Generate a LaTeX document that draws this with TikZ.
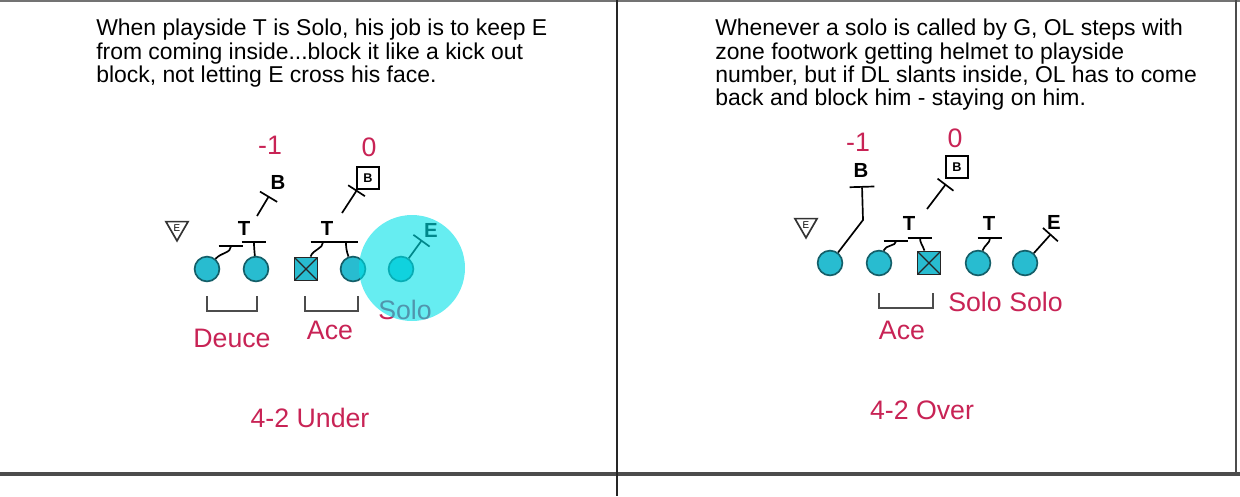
\documentclass[tikz,border=0pt]{standalone}
\usepackage{fontspec}
\setmainfont{Liberation Sans}
\usetikzlibrary{shapes.geometric,arrows.meta}

\definecolor{olfill}{RGB}{40,188,208}
\definecolor{olline}{RGB}{20,95,105}
\definecolor{callred}{RGB}{200,35,85}
\definecolor{solohi}{RGB}{0,225,232}

\tikzset{
	lineman/.style={circle, draw=olline, fill=olfill, line width=1.2pt, minimum size=6.2mm, inner sep=0pt},
	snapper/.style={rectangle, draw=black!85, fill=olfill, line width=1.2pt, minimum size=5.8mm, inner sep=0pt,
		path picture={\draw[black!85, line width=.9pt] (path picture bounding box.north west) -- (path picture bounding box.south east)
			(path picture bounding box.north east) -- (path picture bounding box.south west);}},
	endman/.style={regular polygon, regular polygon sides=3, shape border rotate=180, draw=black!80, line width=1.2pt,
		minimum size=6.4mm, inner sep=0pt, font=\fontsize{7}{7}\selectfont},
	defender/.style={font=\bfseries\fontsize{14.5}{14.5}\selectfont, inner sep=1pt},
	boxlb/.style={draw, line width=1.1pt, minimum size=5.4mm, inner sep=0pt, font=\bfseries\fontsize{9}{9}\selectfont},
	call/.style={text=callred, font=\fontsize{19}{19}\selectfont, inner sep=0pt},
	note/.style={anchor=north west, align=left, font=\fontsize{16.3}{16.6}\selectfont, inner sep=0pt},
	blk/.style={line width=1.2pt, -{Bar[width=6.2mm]}},
	lbtick/.style={line width=1.2pt, -{Bar[width=5mm]}},
	pairline/.style={draw=black!70, line width=1.3pt},
}

\begin{document}
\begin{tikzpicture}[x=0.025cm, y=-0.025cm]
	\useasboundingbox (0,0) rectangle (1240,496);

	% frame
	\draw[black!55, line width=2pt] (0,1) -- (1240,1);
	\draw[black!70, line width=2.2pt] (0,474) -- (1240,474);
	\draw[black!85, line width=1.2pt] (617,0) -- (617,496);
	\draw[black!70, line width=1.5pt] (1236,0) -- (1236,474);

	% notes
	\node[note] (unote) at (96,19) {When playside T is Solo, his job is to keep E\\
		from coming inside...block it like a kick out\\
		block, not letting E cross his face.};
	\node[note] (vnote) at (715,19) {Whenever a solo is called by G, OL steps with\\
		zone footwork getting helmet to playside\\
		number, but if DL slants inside, OL has to come\\
		back and block him - staying on him.};

	% 4-2 under: front
	\node[lineman] (u1) at (207,269) {};
	\node[lineman] (u2) at (256,269) {};
	\node[snapper] (uc) at (306,269) {};
	\node[lineman] (u4) at (353,269) {};
	\node[lineman] (u5) at (401,269) {};
	\node[endman] (utri) at (177,228) {E};

	% 4-2 under: defense
	\node[defender] (uT1) at (244,228) {T};
	\node[defender] (uT2) at (327,228) {T};
	\node[defender] (uB1) at (278,182) {B};
	\node[boxlb] (uB2) at (368,178) {B};
	\node[defender] (uE) at (431,230) {E};
	\node[call] (um1) at (270,145) {-1};
	\node[call] (u0) at (369,147) {0};

	% 4-2 under: blocks
	\coordinate (ua) at (231,245);
	\coordinate (ub) at (254,241);
	\coordinate (uf) at (323,241);
	\coordinate (ug) at (346,241);
	\coordinate (uh0) at (257,216);
	\coordinate (uh) at (269,196);
	\coordinate (ui0) at (342,213);
	\coordinate (ui) at (357,190);
	\coordinate (uj) at (422,240);
	\draw[blk] (u1) to[out=50, in=-90] (ua);
	\draw[blk] (u2) to[out=95, in=-90] (ub);
	\draw[blk] (uc) to[out=70, in=-90] (uf);
	\draw[blk] (u4) to[out=110, in=-90] (ug);
	\draw[lbtick] (uh0) -- (uh);
	\draw[lbtick] (ui0) -- (ui);
	\draw[lbtick] (u5) -- (uj);

	% 4-2 under: calls
	\draw[pairline] (207,296) -- (207,311) -- (257,311) -- (257,296);
	\draw[pairline] (305,296) -- (305,311) -- (358,311) -- (358,296);
	\node[call] (udeuce) at (232,338) {Deuce};
	\node[call] (uace) at (330,330) {Ace};
	\node[call] (usolo) at (405,310) {Solo};
	\node[call] (uname) at (310,418) {4-2 Under};

	% solo highlight
	\fill[solohi, opacity=.6] (412,268) circle[radius=53];

	% 4-2 over: front
	\node[lineman] (v1) at (830,263) {};
	\node[lineman] (v2) at (879,263) {};
	\node[snapper] (vc) at (929,263) {};
	\node[lineman] (v4) at (978,263) {};
	\node[lineman] (v5) at (1025,263) {};
	\node[endman] (vtri) at (806,225) {E};

	% 4-2 over: defense
	\node[defender] (vB1) at (861,170) {B};
	\node[boxlb] (vB2) at (957,167) {B};
	\node[defender] (vT1) at (909,223) {T};
	\node[defender] (vT2) at (989,223) {T};
	\node[defender] (vE) at (1054,222) {E};
	\node[call] (vm1) at (858,142) {-1};
	\node[call] (v0) at (955,138) {0};

	% 4-2 over: blocks
	\coordinate (vk) at (863,220);
	\coordinate (va) at (862,186);
	\coordinate (vb) at (896,240);
	\coordinate (vd) at (920,237);
	\coordinate (ve) at (990,237);
	\coordinate (vf) at (1051,234);
	\coordinate (vg0) at (927,209);
	\coordinate (vg) at (946,184);
	\draw[blk] (v1) -- (vk) -- (va);
	\draw[blk] (v2) to[out=70, in=-90] (vb);
	\draw[blk] (vc) to[out=110, in=-90] (vd);
	\draw[blk] (v4) to[out=70, in=-90] (ve);
	\draw[lbtick] (v5) -- (vf);
	\draw[lbtick] (vg0) -- (vg);

	% 4-2 over: calls
	\draw[pairline] (879,293) -- (879,308) -- (933,308) -- (933,293);
	\node[call] (vace) at (902,330) {Ace};
	\node[call] (vsolo1) at (975,302) {Solo};
	\node[call] (vsolo2) at (1036,302) {Solo};
	\node[call] (vname) at (922,410) {4-2 Over};
\end{tikzpicture}
\end{document}
